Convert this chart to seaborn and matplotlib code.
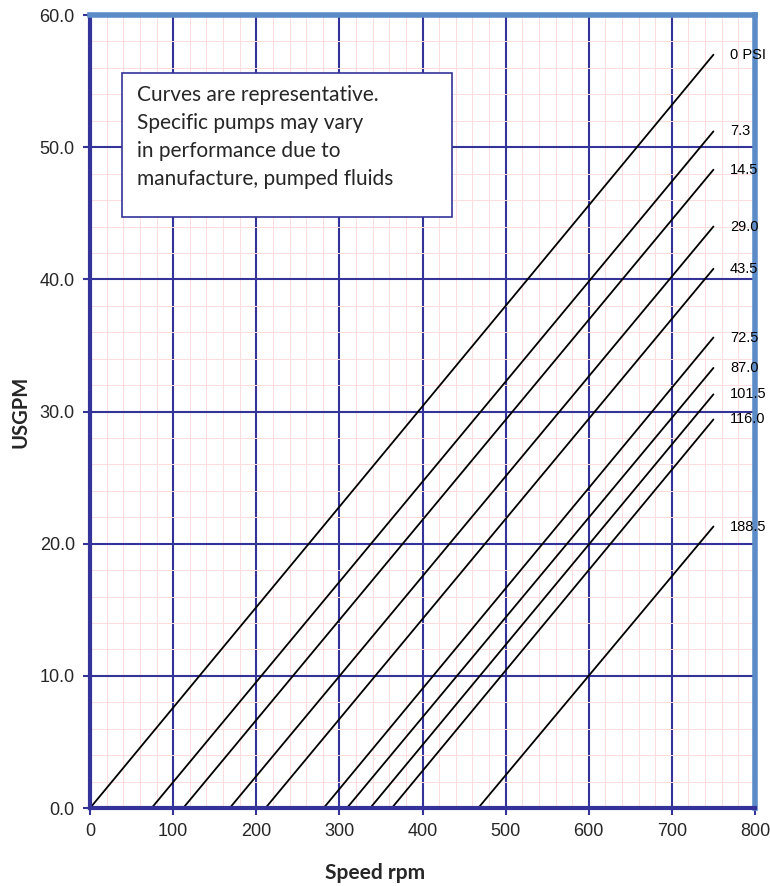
import numpy as np
import pandas as pd
import seaborn as sns
import matplotlib.pyplot as plt
from matplotlib.ticker import MultipleLocator, FormatStrFormatter
from matplotlib.patches import Rectangle

sns.set_theme(style="white")
plt.rcParams['font.family'] = ['Liberation Sans', 'DejaVu Sans']

# ---------------------------------
# Data
# ---------------------------------
pressure_labels = ['0 PSI', '7.3', '14.5', '29.0', '43.5',
                   '72.5', '87.0', '101.5', '116.0', '188.5']
# speed (rpm) where the flow reaches zero
start_rpm = [0, 74, 112, 168, 211, 281, 309, 337, 363, 467]
# flow (USGPM) at 750 rpm
end_gpm = [57.0, 51.2, 48.3, 44.0, 40.8, 35.6, 33.3, 31.3, 29.4, 21.3]
end_rpm = 750

note = ("Curves are representative.\n"
        "Specific pumps may vary\n"
        "in performance due to\n"
        "manufacture, pumped fluids")

# Long table for seaborn
rows = []
for lab, x0, y1 in zip(pressure_labels, start_rpm, end_gpm):
    rows.append({'psi': lab, 'rpm': x0, 'gpm': 0.0})
    rows.append({'psi': lab, 'rpm': end_rpm, 'gpm': y1})
curves = pd.DataFrame(rows)

# ---------------------------------
# Plot
# ---------------------------------
navy = '#33339a'
steel = '#5b8cc8'
pink = '#fcdcdc'

fig = plt.figure(figsize=(7.7, 8.86), dpi=100)
ax = fig.add_axes([0.117, 0.088, 0.8635, 0.895])

sns.lineplot(data=curves, x='rpm', y='gpm', units='psi', estimator=None,
             color='black', linewidth=1.3, ax=ax, legend=False)

ax.set_xlim(0, 800)
ax.set_ylim(0, 60)
ax.xaxis.set_major_locator(MultipleLocator(100))
ax.xaxis.set_minor_locator(MultipleLocator(20))
ax.yaxis.set_major_locator(MultipleLocator(10))
ax.yaxis.set_minor_locator(MultipleLocator(2))
ax.yaxis.set_major_formatter(FormatStrFormatter('%.1f'))

ax.grid(which='minor', color=pink, linewidth=0.7, zorder=0)
ax.grid(which='major', color=navy, linewidth=1.5, zorder=1)
ax.set_axisbelow(True)

ax.tick_params(which='major', direction='out', length=5, width=1.5,
               color=navy, labelsize=13, pad=6, bottom=True, left=True)
ax.tick_params(which='minor', length=0)

for side in ['left', 'bottom']:
    ax.spines[side].set_color(navy)
    ax.spines[side].set_linewidth(3)
for side in ['top', 'right']:
    ax.spines[side].set_color(steel)
    ax.spines[side].set_linewidth(4)

ax.set_xlabel('Speed rpm', fontsize=15, fontweight='bold',
              family=['Lato', 'DejaVu Sans'], va='center')
ax.xaxis.set_label_coords(0.429, -0.082)
ax.set_ylabel('USGPM', fontsize=14.5, fontweight='bold',
              family=['Lato', 'DejaVu Sans'], va='center')
ax.yaxis.set_label_coords(-0.105, 0.5)

# Pressure labels at line ends
for lab, y1 in zip(pressure_labels, end_gpm):
    ax.text(end_rpm + 20, y1, lab, fontsize=10.5, va='center', ha='left',
            color='black', zorder=5)

# Note box
ax.add_patch(Rectangle((38.5, 44.7), 397, 10.9, facecolor='white',
                       edgecolor=navy, linewidth=1.2, zorder=4))
ax.text(56, 50.75, note, fontsize=15, va='center', ha='left',
        family=['Lato', 'DejaVu Sans'], linespacing=1.5, zorder=5)

fig.savefig('out.png', dpi=100)
